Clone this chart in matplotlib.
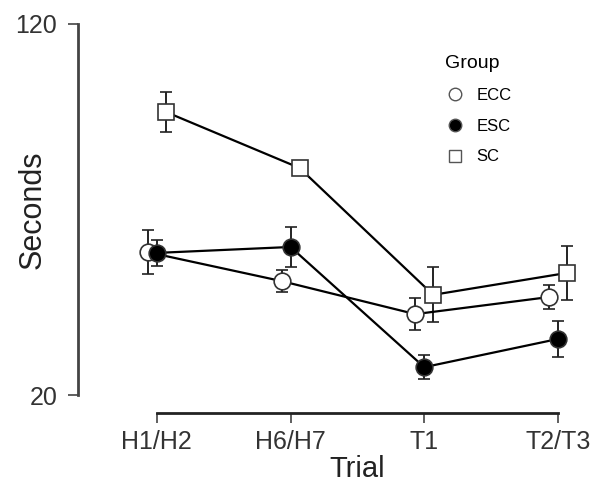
import numpy as np
import matplotlib.pyplot as plt
from matplotlib.lines import Line2D

plt.rcParams['font.family'] = ['Liberation Sans', 'DejaVu Sans']

trials = ['H1/H2', 'H6/H7', 'T1', 'T2/T3']
groups = ['ECC', 'ESC', 'SC']

ecc_mean = [58.5, 50.7, 41.8, 46.4]
ecc_err = [6.0, 3.0, 4.4, 3.3]
esc_mean = [58.3, 59.9, 27.5, 35.1]
esc_err = [3.5, 5.4, 3.2, 4.8]
sc_mean = [96.3, 81.2, 47.0, 52.9]
sc_err = [5.3, 1.5, 7.4, 7.2]

fig = plt.figure(figsize=(5.98, 4.86), dpi=100)
ax = fig.add_axes([78/598, 1 - 395/486, (590 - 78)/598, (395 - 24)/486])

x = np.arange(len(trials))
shift = 0.067
styles = [
    (ecc_mean, ecc_err, -shift, 'o', 'white'),
    (esc_mean, esc_err, 0.0, 'o', 'black'),
    (sc_mean, sc_err, shift, 's', 'white'),
]
handles = []
for (m, e, dx, mk, fc), name in zip(styles, groups):
    ax.errorbar(x + dx, m, yerr=e, fmt='-', color='black', lw=1.6,
                marker=mk, ms=12, mfc=fc, mec='#333333',
                mew=1.2, ecolor='#222222', elinewidth=1.4, capsize=4, capthick=1.4)
    handles.append(Line2D([], [], ls='none', marker=mk, ms=9, mfc=fc,
                          mec='#555555', mew=1.0, label=name))

ax.set_xlim(-0.59, 3.24)
ax.set_ylim(20, 120)
ax.set_xticks(x)
ax.set_xticklabels(trials)
ax.set_yticks([20, 120])

for s in ['top', 'right']:
    ax.spines[s].set_visible(False)
ax.spines['left'].set_bounds(20, 120)
ax.spines['bottom'].set_bounds(0, 3)
ax.spines['bottom'].set_position(('outward', 13))
ax.spines['left'].set_linewidth(2)
ax.spines['bottom'].set_linewidth(2)
ax.spines['left'].set_color('#444444')
ax.spines['bottom'].set_color('#222222')
ax.tick_params(axis='y', length=7, width=1.2, color='#444444', labelsize=18, pad=8,
               labelcolor='#333333')
ax.tick_params(axis='x', length=7, width=1.2, color='#444444', labelsize=18, pad=5.5,
               labelcolor='#333333')

ax.set_ylabel('Seconds', fontsize=22, color='#222222')
ax.yaxis.set_label_coords((48 - 78) / 512, 0.5)
ax.set_xlabel('Trial', fontsize=21, color='#222222')
ax.xaxis.set_label_coords((357.5 - 78) / 512, (395 - 455) / 371)

leg = ax.legend(handles=handles, title='Group', loc='upper left', frameon=False,
                bbox_to_anchor=(430/598, 1 - 40/486), bbox_transform=fig.transFigure,
                fontsize=12, title_fontsize=14, handlelength=1.2, handletextpad=0.7,
                labelspacing=0.95)
leg._legend_box.align = 'left'

fig.savefig('out.png', dpi=100)
